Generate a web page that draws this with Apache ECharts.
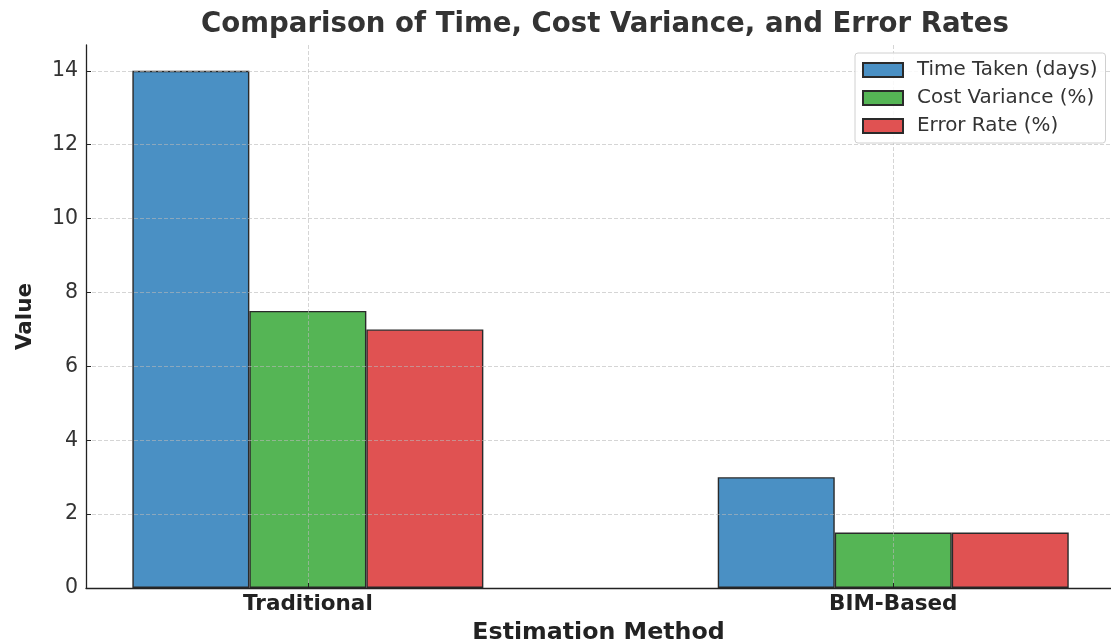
<!DOCTYPE html>
<html>
<head>
<meta charset="utf-8">
<script src="https://cdn.jsdelivr.net/npm/echarts@6/dist/echarts.min.js"></script>
<style>html,body{margin:0;padding:0;background:#fff;}#c{width:1111px;height:644px;}</style>
</head>
<body>
<div id="c"></div>
<script>
const categories = ['Traditional', 'BIM-Based'];
const timeTaken = [14, 3];
const costVariance = [7.5, 1.5];
const errorRate = [7, 1.5];
const yTicks = [0, 2, 4, 6, 8, 10, 12, 14];
const seriesNames = ['Time Taken (days)', 'Cost Variance (%)', 'Error Rate (%)'];
const colors = ['#4a90c4', '#55b555', '#e05252'];

const FONT = 'DejaVu Sans';
const chart = echarts.init(document.getElementById('c'));
const toPts = arr => arr.map((v, i) => [i, v]);
const seriesData = [timeTaken, costVariance, errorRate];

chart.setOption({
  animation: false,
  backgroundColor: '#fff',
  title: {
    text: 'Comparison of Time, Cost Variance, and Error Rates',
    left: 600, top: 6, textAlign: 'center',
    textStyle: { fontFamily: FONT, fontWeight: 'bold', fontSize: 27.6, color: '#333' }
  },
  legend: {
    orient: 'vertical', left: 855, top: 53,
    padding: [6, 8, 6, 7],
    itemWidth: 40, itemHeight: 14, itemGap: 6, icon: 'rect',
    borderColor: '#d0d0d0', borderWidth: 1, borderRadius: 3,
    backgroundColor: 'rgba(255,255,255,0.85)',
    textStyle: { fontFamily: FONT, fontSize: 19.9, color: '#333', lineHeight: 22, padding: [0, 0, 0, 9] },
    data: seriesNames
  },
  grid: { left: 86, right: 0, top: 45, bottom: 56, outerBoundsMode: 'none', containLabel: false },
  xAxis: {
    type: 'value', min: -0.379, max: 1.372, z: 3,
    name: 'Estimation Method', nameLocation: 'middle', nameGap: 33,
    nameTextStyle: { fontFamily: FONT, fontWeight: 'bold', fontSize: 23.7, color: '#222' },
    axisLine: { show: true, onZero: false, lineStyle: { color: '#222', width: 1.3 } },
    axisTick: { show: true, inside: true, length: 5, customValues: [0, 1], lineStyle: { color: '#222' } },
    axisLabel: {
      customValues: [0, 1], margin: 5,
      formatter: v => categories[Math.round(v)] || '',
      fontFamily: FONT, fontWeight: 'bold', fontSize: 21.5, color: '#222'
    },
    splitLine: { show: true, lineStyle: { color: 'rgba(185,185,185,0.6)', type: [4, 2], width: 1 } }
  },
  yAxis: {
    type: 'value', min: 0, max: 14.7, z: 3,
    name: 'Value', nameLocation: 'middle', nameGap: 50, nameRotate: 90,
    nameTextStyle: { fontFamily: FONT, fontWeight: 'bold', fontSize: 21.5, color: '#222' },
    axisLine: { show: true, onZero: false, lineStyle: { color: '#222', width: 1.3 } },
    axisTick: { show: true, inside: true, length: 5, customValues: yTicks, lineStyle: { color: '#222' } },
    axisLabel: { customValues: yTicks, margin: 8, padding: [3, 0, 0, 0], fontFamily: FONT, fontSize: 20.5, color: '#333' },
    splitLine: { show: true, lineStyle: { color: 'rgba(185,185,185,0.6)', type: [4, 2], width: 1 } }
  },
  series: seriesNames.map((n, k) => ({
    name: n, type: 'bar', data: toPts(seriesData[k]),
    barWidth: 117, barGap: '0%',
    itemStyle: { color: colors[k], borderColor: '#2a2a2a', borderWidth: 1.4 }
  }))
});
</script>
</body>
</html>
